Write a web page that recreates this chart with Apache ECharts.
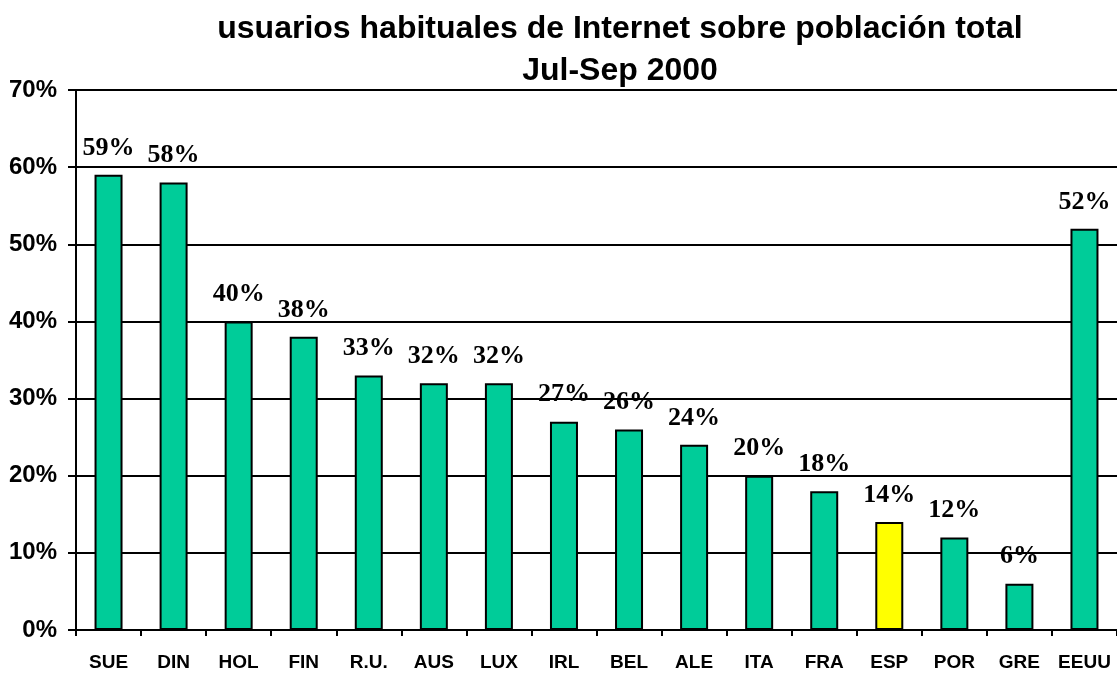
<!DOCTYPE html>
<html>
<head>
<meta charset="utf-8">
<script src="https://cdn.jsdelivr.net/npm/echarts@6/dist/echarts.min.js"></script>
<style>
  html, body { margin: 0; padding: 0; background: #fff; }
  #main { width: 1117px; height: 673px; }
</style>
</head>
<body>
<div id="main"></div>
<script>
// paises (abreviados) y porcentaje de usuarios habituales
const paises = ['SUE', 'DIN', 'HOL', 'FIN', 'R.U.', 'AUS', 'LUX', 'IRL', 'BEL', 'ALE', 'ITA', 'FRA', 'ESP', 'POR', 'GRE', 'EEUU'];
const usuarios = [59, 58, 40, 38, 33, 32, 32, 27, 26, 24, 20, 18, 14, 12, 6, 52];
const destacado = 'ESP';   // la barra de Espana va en amarillo

const chart = echarts.init(document.getElementById('main'));

const barData = usuarios.map(function (v, i) {
  return {
    value: v,
    itemStyle: { color: paises[i] === destacado ? '#FFFF00' : '#00CC99' }
  };
});

const option = {
  backgroundColor: '#fff',
  animation: false,
  title: {
    text: 'usuarios habituales de Internet sobre población total\nJul-Sep 2000',
    left: 620,
    top: 8,
    textAlign: 'center',
    padding: 0,
    textStyle: {
      fontFamily: 'Arial, "Liberation Sans"',
      fontWeight: 'bold',
      fontSize: 32,
      lineHeight: 42,
      color: '#000'
    }
  },
  grid: {
    left: 76,
    top: 90,
    width: 1045,
    bottom: 43,
    containLabel: false
  },
  xAxis: {
    type: 'category',
    data: paises,
    axisLine: { lineStyle: { color: '#000', width: 2 } },
    axisTick: { show: true, interval: 0, length: 6, lineStyle: { color: '#000', width: 2 } },
    axisLabel: {
      interval: 0,
      margin: 23,
      color: '#000',
      fontFamily: 'Arial, "Liberation Sans"',
      fontWeight: 'bold',
      fontSize: 19
    }
  },
  yAxis: {
    type: 'value',
    min: 0,
    max: 70,
    interval: 10,
    axisLine: { show: true, lineStyle: { color: '#000', width: 2 } },
    axisTick: { show: true, length: 8, lineStyle: { color: '#000', width: 2 } },
    splitLine: { show: true, lineStyle: { color: '#000', width: 2 } },
    axisLabel: {
      formatter: '{value}%',
      margin: 19,
      color: '#000',
      fontFamily: 'Arial, "Liberation Sans"',
      fontWeight: 'bold',
      fontSize: 24
    }
  },
  series: [{
    type: 'bar',
    data: barData,
    barWidth: 28,
    itemStyle: { borderColor: '#000', borderWidth: 2 },
    label: {
      show: true,
      position: 'top',
      distance: 14,
      formatter: '{c}%',
      color: '#000',
      fontFamily: '"Times New Roman", "Liberation Serif", serif',
      fontWeight: 'bold',
      fontSize: 26
    }
  }]
};

chart.setOption(option);
</script>
</body>
</html>
